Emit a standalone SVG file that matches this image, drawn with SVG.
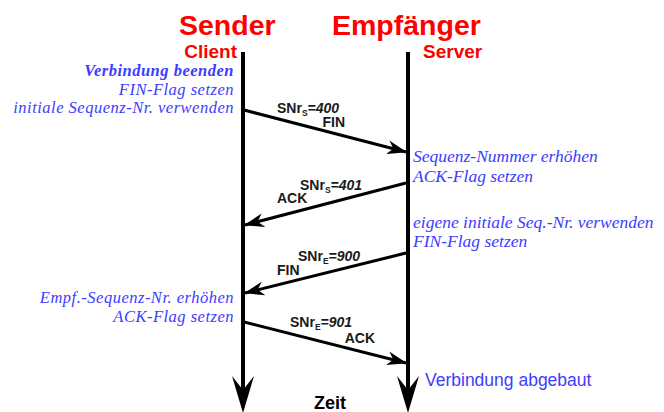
<svg xmlns="http://www.w3.org/2000/svg" width="664" height="412" viewBox="0 0 664 412">
<style>
.title{font-family:"Liberation Sans",Arial,sans-serif;font-weight:bold;fill:#ff0000;}
.big{font-size:28.5px;}
.role{font-size:19px;}
.note{font-family:"Liberation Serif","Times New Roman","DejaVu Serif",serif;font-style:italic;font-size:17.5px;fill:#3c3cff;}
.left{font-size:16.5px;letter-spacing:0.5px;}
.noteb{font-weight:bold;}
.lbl{font-family:"Liberation Sans",Arial,sans-serif;font-weight:bold;font-size:14px;fill:#1a1a1a;}
.sub{font-size:8.5px;}
.num{font-style:italic;}
.msg{stroke:#000;stroke-width:3;fill:none;}
.life{stroke:#000;stroke-width:4;fill:none;}
.head{fill:#000;}
.end{font-family:"Liberation Sans",Arial,sans-serif;font-size:17.5px;fill:#3c3cff;}
.zeit{font-family:"Liberation Sans",Arial,sans-serif;font-weight:bold;font-size:18px;fill:#000;}
</style>
<defs>
<marker id="arr" viewBox="0 0 20 16" refX="19" refY="8" markerWidth="20" markerHeight="16" markerUnits="userSpaceOnUse" orient="auto">
<path d="M0,1 L20,8 L0,15 L6,8 Z" fill="#000"/>
</marker>
</defs>
<rect width="664" height="412" fill="#fff"/>
<g id="sender">
<text class="title big" x="179" y="35">Sender</text>
<text class="title role" x="237" y="58" text-anchor="end">Client</text>
<line class="life" x1="243" y1="52" x2="243" y2="400"/>
<path class="head" d="M243,413 L232,376 L243,390 L254,376 Z"/>
</g>
<g id="empfaenger">
<text class="title big" x="332" y="35">Empfänger</text>
<text class="title role" x="423" y="58">Server</text>
<line class="life" x1="408" y1="52" x2="408" y2="400"/>
<path class="head" d="M408,413 L397,376 L408,390 L419,376 Z"/>
</g>
<g id="notes">
<text class="note left noteb" x="234" y="76" text-anchor="end">Verbindung beenden</text>
<text class="note left" x="234" y="94.5" text-anchor="end">FIN-Flag setzen</text>
<text class="note left" x="234" y="113" text-anchor="end">initiale Sequenz-Nr. verwenden</text>
<text class="note" x="413" y="162">Sequenz-Nummer erhöhen</text>
<text class="note" x="413" y="182">ACK-Flag setzen</text>
<text class="note" x="413" y="228">eigene initiale Seq.-Nr. verwenden</text>
<text class="note" x="413" y="247">FIN-Flag setzen</text>
<text class="note left" x="234" y="303" text-anchor="end">Empf.-Sequenz-Nr. erhöhen</text>
<text class="note left" x="234" y="322" text-anchor="end">ACK-Flag setzen</text>
<text class="end" x="425" y="386">Verbindung abgebaut</text>
<text class="zeit" x="330" y="409" text-anchor="middle">Zeit</text>
</g>
<g id="connectors">
<line class="msg" x1="244" y1="110" x2="406" y2="152" marker-end="url(#arr)"/>
<line class="msg" x1="406" y1="183" x2="245" y2="225" marker-end="url(#arr)"/>
<line class="msg" x1="406" y1="253" x2="245" y2="293" marker-end="url(#arr)"/>
<line class="msg" x1="244" y1="322" x2="406" y2="363" marker-end="url(#arr)"/>
</g>
<g id="labels">
<text class="lbl" x="277" y="113">SNr<tspan class="sub" dy="3">S</tspan><tspan class="num" dy="-3">=400</tspan></text>
<text class="lbl" x="345" y="127" text-anchor="end">FIN</text>
<text class="lbl" x="300" y="190">SNr<tspan class="sub" dy="3">S</tspan><tspan class="num" dy="-3">=401</tspan></text>
<text class="lbl" x="277" y="203">ACK</text>
<text class="lbl" x="298" y="261">SNr<tspan class="sub" dy="3">E</tspan><tspan class="num" dy="-3">=900</tspan></text>
<text class="lbl" x="277" y="275">FIN</text>
<text class="lbl" x="290" y="327">SNr<tspan class="sub" dy="3">E</tspan><tspan class="num" dy="-3">=901</tspan></text>
<text class="lbl" x="375" y="343" text-anchor="end">ACK</text>
</g>
</svg>
